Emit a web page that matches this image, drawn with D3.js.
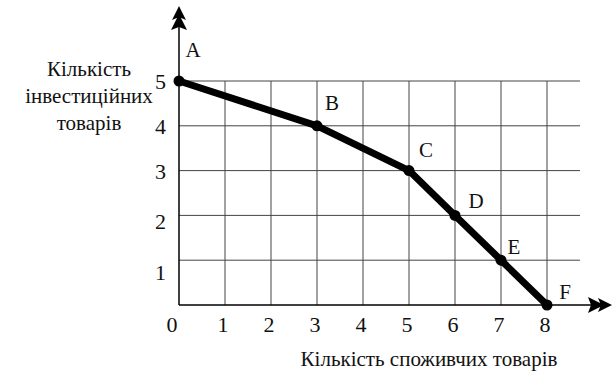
<!DOCTYPE html>
<html>
<head>
<meta charset="utf-8">
<script src="https://cdn.jsdelivr.net/npm/d3@7"></script>
</head>
<body style="margin:0">
<div class="chart"></div>
<script>
// points on the curve
var pointNames = ["A", "B", "C", "D", "E", "F"];
var consumerGoods = [0, 3, 5, 6, 7, 8];
var investmentGoods = [5, 4, 3, 2, 1, 0];

var xTicks = [0, 1, 2, 3, 4, 5, 6, 7, 8];
var yTicks = [1, 2, 3, 4, 5];
var xTitle = "Кількість споживчих товарів";
var yTitle = ["Кількість", "інвестиційних", "товарів"];

var width = 614;
var height = 376;
var serifFont = "Times New Roman, Liberation Serif, serif";

var x = d3.scaleLinear().domain([0, 8]).range([179, 547]);
var y = d3.scaleLinear().domain([0, 5]).range([305, 81]);
var gridRight = 580;

var svg = d3.select(".chart").append("svg")
    .attr("width", width)
    .attr("height", height)
    .attr("font-family", serifFont);

// shift a start-anchored text so it sits centred (0.5) or right-aligned (1) on its x
function anchor(sel, k) {
    sel.each(function() {
        var t = d3.select(this);
        t.attr("x", +t.attr("x") - k * this.getComputedTextLength());
    });
}

// grid
svg.append("g").selectAll("line.v")
    .data(xTicks.slice(1))
    .enter().append("line")
    .attr("x1", function(d) { return x(d); })
    .attr("x2", function(d) { return x(d); })
    .attr("y1", y(5))
    .attr("y2", y(0))
    .attr("stroke", "#444")
    .attr("stroke-width", 1);

svg.append("g").selectAll("line.h")
    .data(yTicks)
    .enter().append("line")
    .attr("x1", x(0))
    .attr("x2", gridRight)
    .attr("y1", function(d) { return y(d); })
    .attr("y2", function(d) { return y(d); })
    .attr("stroke", "#444")
    .attr("stroke-width", 1);

// axes
svg.append("line")
    .attr("x1", x(0)).attr("x2", 596)
    .attr("y1", y(0)).attr("y2", y(0))
    .attr("stroke", "#000").attr("stroke-width", 1.5);

svg.append("line")
    .attr("x1", x(0)).attr("x2", x(0))
    .attr("y1", y(0)).attr("y2", 22)
    .attr("stroke", "#000").attr("stroke-width", 1.5);

// double arrow heads
var ax = x(0);
svg.append("path")
    .attr("d", "M" + ax + ",6 L" + (ax + 7) + ",20 L" + ax + ",17 L" + (ax - 7) + ",20 Z" +
               "M" + ax + ",14 L" + (ax + 8) + ",30 L" + ax + ",27 L" + (ax - 8) + ",30 Z")
    .attr("fill", "#000");

var ay = y(0);
svg.append("path")
    .attr("d", "M612," + ay + " L598," + (ay - 7) + " L601," + ay + " L598," + (ay + 7) + " Z" +
               "M604," + ay + " L588," + (ay - 8) + " L591," + ay + " L588," + (ay + 8) + " Z")
    .attr("fill", "#000");

// tick labels
svg.append("g").selectAll("text")
    .data(xTicks)
    .enter().append("text")
    .attr("x", function(d) { return x(d) - (d === 0 ? 7 : 2); })
    .attr("y", 332)
    .attr("font-family", serifFont)
    .attr("font-size", 22)
    .attr("fill", "#111")
    .text(function(d) { return d; })
    .call(anchor, 0.5);

svg.append("g").selectAll("text")
    .data(yTicks)
    .enter().append("text")
    .attr("x", 166)
    .attr("y", function(d) { return y(d) + 8 + (d === 1 ? 12 : d === 2 ? 6 : 0); })
    .attr("font-family", serifFont)
    .attr("font-size", 22)
    .attr("fill", "#111")
    .text(function(d) { return d; })
    .call(anchor, 1);

// titles
svg.append("text")
    .attr("x", 429)
    .attr("y", 366)
    .attr("font-family", serifFont)
    .attr("font-size", 21)
    .attr("fill", "#111")
    .text(xTitle)
    .call(anchor, 0.5);

svg.append("g").selectAll("text")
    .data(yTitle)
    .enter().append("text")
    .attr("x", 89)
    .attr("y", function(d, i) { return 76 + i * 27; })
    .attr("font-family", serifFont)
    .attr("font-size", 21)
    .attr("fill", "#111")
    .text(function(d) { return d; })
    .call(anchor, 0.5);

// curve
var pts = consumerGoods.map(function(d, i) {
    return { name: pointNames[i], cx: d, cy: investmentGoods[i] };
});

svg.append("path")
    .datum(pts)
    .attr("d", d3.line()
        .x(function(d) { return x(d.cx); })
        .y(function(d) { return y(d.cy); }))
    .attr("fill", "none")
    .attr("stroke", "#000")
    .attr("stroke-width", 7)
    .attr("stroke-linejoin", "round");

svg.append("g").selectAll("circle")
    .data(pts)
    .enter().append("circle")
    .attr("cx", function(d) { return x(d.cx); })
    .attr("cy", function(d) { return y(d.cy); })
    .attr("r", 5.5)
    .attr("fill", "#000");

// point letters, offset from their points
var labelDx = [14, 15, 17, 21, 13, 18];
var labelDy = [-24, -16, -14, -7, -6, -6];

svg.append("g").selectAll("text")
    .data(pts)
    .enter().append("text")
    .attr("x", function(d, i) { return x(d.cx) + labelDx[i]; })
    .attr("y", function(d, i) { return y(d.cy) + labelDy[i]; })
    .attr("font-family", serifFont)
    .attr("font-size", 21)
    .attr("fill", "#111")
    .text(function(d) { return d.name; })
    .call(anchor, 0.5);
</script>
</body>
</html>
